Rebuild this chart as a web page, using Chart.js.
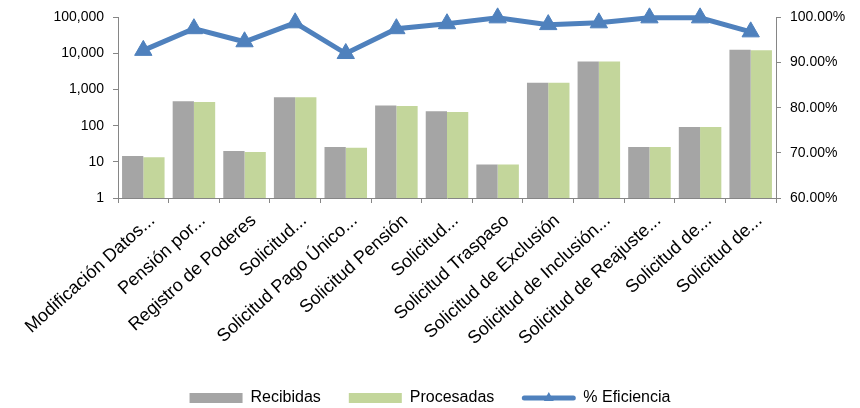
<!DOCTYPE html>
<html>
<head>
<meta charset="utf-8">
<script src="https://cdn.jsdelivr.net/npm/chart.js@4"></script>
<style>
  html, body { margin: 0; padding: 0; background: #fff; }
  #wrap { width: 860px; height: 408px; }
</style>
</head>
<body>
<div id="wrap"><canvas id="chart" width="860" height="408"></canvas></div>
<script>
// categories (labels truncated as in the original sheet)
const categories = [
  'Modificación Datos...', 'Pensión por...', 'Registro de Poderes', 'Solicitud...',
  'Solicitud Pago Único...', 'Solicitud Pensión', 'Solicitud...', 'Solicitud Traspaso',
  'Solicitud de Exclusión', 'Solicitud de Inclusión...', 'Solicitud de Reajuste...',
  'Solicitud de...', 'Solicitud de...'
];
const recibidas  = [14.5, 478, 20, 616, 26, 363, 253, 8.5, 1540, 6040, 26, 92, 12800];
const procesadas = [13.5, 457, 18.7, 616, 24.5, 355, 242, 8.5, 1540, 6000, 26, 92, 12300];
const eficiencia = [92.7, 97.5, 94.6, 98.8, 92.0, 97.5, 98.6, 99.9, 98.4, 98.8, 99.9, 99.9, 96.8];
const logTicks = [1, 10, 100, 1000, 10000, 100000];

const gray = '#A5A5A5';
const green = '#C3D69B';
const blue = '#4F81BD';
const axisColor = '#868686';

// draws the line+triangle legend sample for the line series
const legendLine = {
  id: 'legendLine',
  afterDraw(chart) {
    const lg = chart.legend;
    if (!lg || !lg.legendHitBoxes) return;
    const hb = lg.legendHitBoxes[2];
    const bw = lg.options.labels.boxWidth;
    const ctx = chart.ctx;
    const cy = hb.top + hb.height / 2;
    ctx.save();
    ctx.fillStyle = '#fff';
    ctx.fillRect(hb.left - 5, hb.top - 5, bw + 10, hb.height + 10);
    ctx.strokeStyle = blue;
    ctx.lineWidth = 5;
    ctx.lineCap = 'round';
    ctx.beginPath();
    ctx.moveTo(hb.left + 2, cy);
    ctx.lineTo(hb.left + bw - 2, cy);
    ctx.stroke();
    ctx.fillStyle = blue;
    ctx.beginPath();
    const mx = hb.left + bw / 2;
    ctx.moveTo(mx, cy - 6);
    ctx.lineTo(mx + 5, cy + 3);
    ctx.lineTo(mx - 5, cy + 3);
    ctx.closePath();
    ctx.fill();
    ctx.restore();
  }
};

new Chart(document.getElementById('chart'), {
  data: {
    labels: categories,
    datasets: [
      {
        type: 'line', label: '% Eficiencia', data: eficiencia, yAxisID: 'y1', order: 0,
        borderColor: blue, backgroundColor: blue, borderWidth: 5, clip: false,
        pointStyle: 'triangle', pointRadius: 10, pointBorderWidth: 1,
        pointBackgroundColor: blue, pointBorderColor: blue, tension: 0
      },
      {
        type: 'bar', label: 'Recibidas', data: recibidas, yAxisID: 'y', order: 1,
        backgroundColor: gray, barPercentage: 1, categoryPercentage: 0.84
      },
      {
        type: 'bar', label: 'Procesadas', data: procesadas, yAxisID: 'y', order: 1,
        backgroundColor: green, barPercentage: 1, categoryPercentage: 0.84
      }
    ]
  },
  options: {
    responsive: false,
    animation: false,
    layout: { padding: { top: 17, left: 0, right: 0, bottom: -8 } },
    plugins: {
      tooltip: { enabled: false },
      legend: {
        position: 'bottom',
        labels: {
          boxWidth: 53, boxHeight: 10, padding: 28, color: '#000',
          font: { family: 'Liberation Sans', size: 16 },
          sort: (a, b) => [1, 2, 0].indexOf(a.datasetIndex) - [1, 2, 0].indexOf(b.datasetIndex)
        }
      }
    },
    scales: {
      x: {
        grid: { display: true, drawOnChartArea: false, drawTicks: true, tickLength: 5, color: axisColor, offset: true },
        border: { color: axisColor, width: 1 },
        ticks: {
          autoSkip: false, minRotation: 42, maxRotation: 42, color: '#000', padding: 7, labelOffset: 9,
          font: { family: 'Liberation Sans', size: 18 }
        },
        afterFit: s => { s.height = 164; }
      },
      y: {
        type: 'logarithmic', position: 'left', min: 1, max: 100000,
        grid: { drawOnChartArea: false, drawTicks: true, tickLength: 5, color: axisColor },
        border: { color: axisColor, width: 1 },
        afterBuildTicks: s => { s.ticks = logTicks.map(v => ({ value: v })); },
        ticks: {
          color: '#000', padding: 9, font: { family: 'Liberation Sans', size: 14 },
          callback: v => Number(v).toLocaleString('en-US')
        },
        afterFit: s => { s.width = 118; }
      },
      y1: {
        type: 'linear', position: 'right', min: 60, max: 100,
        grid: { drawOnChartArea: false, drawTicks: true, tickLength: 5, color: axisColor },
        border: { color: axisColor, width: 1 },
        ticks: {
          stepSize: 10, color: '#000', padding: 9, font: { family: 'Liberation Sans', size: 14 },
          callback: v => Number(v).toFixed(2) + '%'
        },
        afterFit: s => { s.width = 84; }
      }
    }
  },
  plugins: [legendLine]
});
</script>
</body>
</html>
